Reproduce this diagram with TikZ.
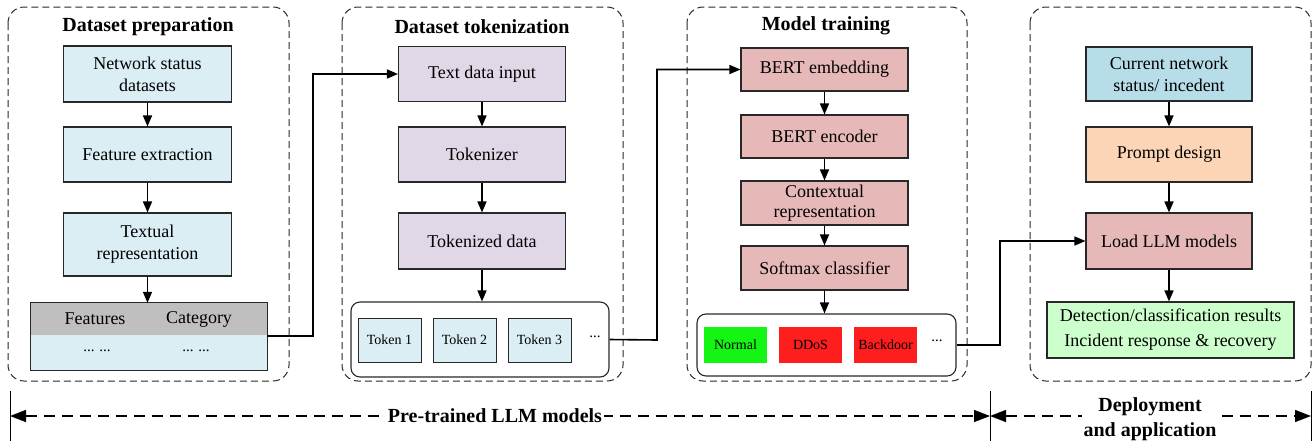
\documentclass[tikz,border=0pt]{standalone}
\usepackage{fontspec}
\setmainfont{Liberation Serif}
\usetikzlibrary{arrows.meta}
\definecolor{lblue}{RGB}{218,238,243}
\definecolor{lpurple}{RGB}{224,216,230}
\definecolor{lpink}{RGB}{230,185,184}
\definecolor{lcyan}{RGB}{183,222,232}
\definecolor{lpeach}{RGB}{251,213,181}
\definecolor{lgreen}{RGB}{204,255,204}
\definecolor{bgreen}{RGB}{20,245,20}
\definecolor{bred}{RGB}{255,30,30}
\definecolor{hgray}{RGB}{191,191,191}
\definecolor{edge}{RGB}{40,40,40}
\begin{document}
\begin{tikzpicture}[x=1pt,y=-1pt,
  box/.style={draw=edge, line width=1.1pt, minimum width=168pt, inner sep=0pt, align=center,
    font=\fontsize{18}{22}\selectfont},
  tok/.style={draw=edge, line width=1pt, minimum width=63pt, minimum height=44pt, inner sep=0pt,
    fill=lblue, font=\fontsize{14}{16}\selectfont},
  cls/.style={minimum width=63pt, minimum height=36pt, inner sep=0pt, font=\fontsize{14}{16}\selectfont},
  panel/.style={draw=edge, line width=1pt, dash pattern=on 7pt off 4pt, rounded corners=16pt},
  holder/.style={draw=edge, line width=1.1pt, rounded corners=9pt},
  title/.style={font=\fontsize{20}{24}\selectfont\bfseries},
  arr/.style={line width=1.6pt, -{Triangle[length=11pt,width=9pt]}},
  conn/.style={line width=1.6pt, -{Triangle[length=11pt,width=9pt]}},
  span/.style={line width=1.4pt, dash pattern=on 11pt off 7pt, {Triangle[length=16pt,width=12pt]}-{Triangle[length=16pt,width=12pt]}},
  spanlbl/.style={fill=white, inner sep=2pt, align=center, font=\fontsize{20}{25}\selectfont\bfseries},
  dots/.style={font=\fontsize{15}{16}\selectfont},
  tick/.style={line width=0.8pt}
]
\useasboundingbox (0,0) rectangle (1315,445);

% ---------- panels
\draw[panel] (8,7) rectangle (289,381);
\draw[panel] (342,7) rectangle (623,381);
\draw[panel] (687,7) rectangle (967,381);
\draw[panel] (1030,7) rectangle (1311,381);

% ---------- panel 1
\node[title] (tt1) at (148,27) {Dataset preparation};
\node[box, fill=lblue, minimum height=56pt] (p1) at (147.5,74) {Network status\\datasets};
\node[box, fill=lblue, minimum height=55pt] (p2) at (147.5,154.5) {Feature extraction};
\node[box, fill=lblue, minimum height=63pt] (p3) at (147.5,244.5) {Textual\\representation};
\node[fill=hgray, minimum width=236pt, minimum height=32pt, inner sep=0pt] (th) at (149,319) {};
\node[fill=lblue, minimum width=236pt, minimum height=35pt, inner sep=0pt] (tb) at (149,352.5) {};
\draw[edge, line width=1.1pt] (th.north west) rectangle (tb.south east);
\node[font=\fontsize{18}{22}\selectfont] (f1) at (95,319) {Features};
\node[font=\fontsize{18}{22}\selectfont] (f2) at (199,319) {Category};
\node[dots] (f3) at (97,351) {...\,\,...};
\node[dots] (f4) at (196,351) {...\,\,...};
\coordinate (tr) at (267,336);
\draw[arr] (p1) -- (p2);
\draw[arr] (p2) -- (p3);
\draw[arr] (p3.south) -- (th.north -| p3.south);

% ---------- panel 2
\node[title] (tt2) at (482,27) {Dataset tokenization};
\node[box, fill=lpurple, minimum width=167pt, minimum height=55pt] (q1) at (482,74) {Text data input};
\node[box, fill=lpurple, minimum width=167pt, minimum height=55pt] (q2) at (482,154.5) {Tokenizer};
\node[box, fill=lpurple, minimum width=167pt, minimum height=56pt] (q3) at (482,241) {Tokenized data};
\node[holder, minimum width=258pt, minimum height=75pt, inner sep=0pt] (qh) at (480,339.5) {};
\node[tok] (k1) at (389.5,340) {Token 1};
\node[tok] (k2) at (464.5,340) {Token 2};
\node[tok] (k3) at (539.5,340) {Token 3};
\node[dots] (k4) at (595,337) {...};
\draw[arr] (q1) -- (q2);
\draw[arr] (q2) -- (q3);
\draw[arr] (q3.south) -- (qh.north -| q3.south);

% ---------- panel 3
\node[title] (tt3) at (826,26) {Model training};
\node[box, fill=lpink, minimum width=167pt, minimum height=43pt] (m1) at (824.5,69.5) {BERT embedding};
\node[box, fill=lpink, minimum width=167pt, minimum height=43pt] (m2) at (824.5,136.5) {BERT encoder};
\node[box, fill=lpink, minimum width=167pt, minimum height=44pt, font=\fontsize{18}{20}\selectfont] (m3) at (824.5,203) {Contextual\\representation};
\node[box, fill=lpink, minimum width=167pt, minimum height=44pt] (m4) at (824.5,268) {Softmax classifier};
\node[holder, minimum width=259pt, minimum height=62pt, inner sep=0pt] (mh) at (826.5,345) {};
\node[cls, fill=bgreen] (c1) at (735.5,345) {Normal};
\node[cls, fill=bred] (c2) at (810.5,345) {DDoS};
\node[cls, fill=bred] (c3) at (885.5,345) {Backdoor};
\node[dots] (c4) at (937,341) {...};
\draw[arr] (m1) -- (m2);
\draw[arr] (m2) -- (m3);
\draw[arr] (m3) -- (m4);
\draw[arr] (m4.south) -- (mh.north -| m4.south);

% ---------- panel 4
\node[box, fill=lcyan, minimum width=166pt, minimum height=54pt] (d1) at (1169,74) {Current network\\status/ incedent};
\node[box, fill=lpeach, minimum width=166pt, minimum height=55pt] (d2) at (1169,154.5) {Prompt design};
\node[box, fill=lpink, minimum width=166pt, minimum height=56pt] (d3) at (1169,241) {Load LLM models};
\node[box, fill=lgreen, minimum width=247pt, minimum height=56pt, font=\fontsize{18}{25}\selectfont] (d4) at (1170.5,330) {Detection/classification results\\Incident response \& recovery};
\draw[arr] (d1) -- (d2);
\draw[arr] (d2) -- (d3);
\draw[arr] (d3.south) -- (d4.north -| d3.south);

% ---------- connectors between panels
\draw[conn] (tr) -- (313,336) |- (q1.west);
\draw[conn] (qh.east) -- (657,340) |- (m1.west);
\draw[conn] (mh.east) -- (1000,345) |- (d3.west);

% ---------- bottom spans
\coordinate (s0) at (10,416);
\coordinate (s1) at (990,416);
\coordinate (s2) at (1311,416);
\draw[tick] (10,391) -- (10,441);
\draw[tick] (990,391) -- (990,441);
\draw[tick] (1311,391) -- (1311,441);
\draw[span] (s0) -- (s1);
\draw[span] (s1) -- (s2);
\node[spanlbl] (l1) at (495,416) {Pre-trained LLM models};
\node[spanlbl] (l2) at (1150,419) {Deployment\\and application};
\end{tikzpicture}
\end{document}
